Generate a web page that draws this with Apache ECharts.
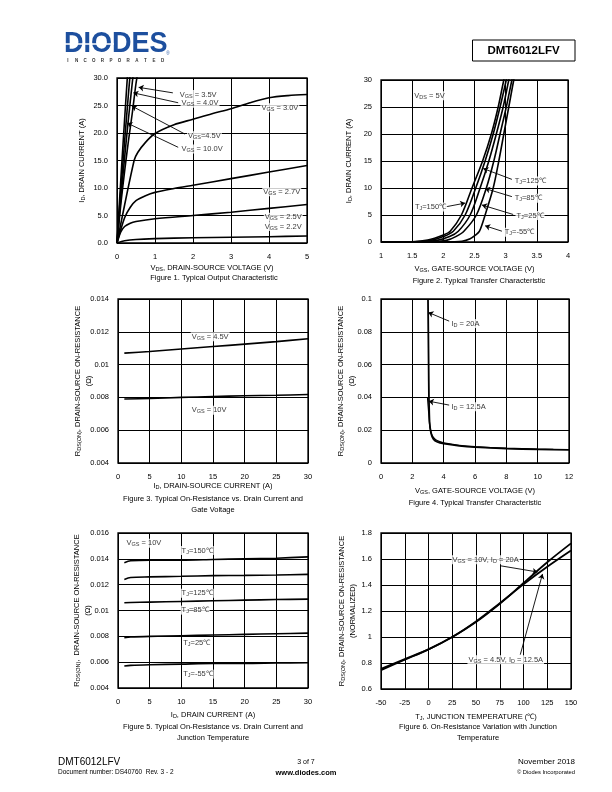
<!DOCTYPE html>
<html><head><meta charset="utf-8">
<script src="https://cdn.jsdelivr.net/npm/echarts@6/dist/echarts.min.js"></script>
<style>html,body{margin:0;padding:0;background:#fff}#c{width:612px;height:792px}</style>
</head><body><div id="c"></div>
<script>
// ---------------- DATA ----------------
// Figure 1: I_D vs V_DS for several V_GS
const f1XTicks = [0, 1, 2, 3, 4, 5];
const f1YTicks = [0, 5, 10, 15, 20, 25, 30];
const f1Vgs10 = [[0,0],[0.1,11.5],[0.2,22.5],[0.3,33]];
const f1Vgs45 = [[0,0],[0.1,9.5],[0.2,18.5],[0.3,27],[0.35,31]];
const f1Vgs40 = [[0,0],[0.1,8],[0.2,15.5],[0.3,22.5],[0.4,29],[0.45,32]];
const f1Vgs35 = [[0,0],[0.1,7],[0.2,13],[0.3,18.5],[0.4,23.5],[0.5,29],[0.55,31]];
const f1Vgs30 = [[0,0],[0.45,15],[0.55,16.5],[0.75,18.3],[1,19.9],[1.5,21.5],[2,22.5],[2.5,23.5],[3,24.4],[3.5,25.5],[4,26.4],[4.5,26.8],[5,27.0]];
const f1Vgs27 = [[0,0],[0.2,4.6],[0.35,6.5],[0.5,7.7],[0.75,8.6],[1,9.2],[1.5,9.9],[2,10.5],[3,11.7],[4,12.9],[5,14.1]];
const f1Vgs25 = [[0,0],[0.1,2],[0.2,3.0],[0.35,3.6],[0.5,3.9],[1,4.4],[2,5.0],[3,5.6],[4,6.3],[5,7.0]];
const f1Vgs22 = [[0,0],[0.2,0.4],[0.5,0.65],[1,0.8],[2,0.95],[3,1.05],[4,1.15],[5,1.27]];
const f1Notes = [
  [1.61, 27.0, 'V{s|GS} = 3.5V'],
  [1.66, 25.4, 'V{s|GS} = 4.0V'],
  [1.83, 19.5, 'V{s|GS}=4.5V'],
  [1.66, 17.1, 'V{s|GS} = 10.0V'],
  [3.76, 24.6, 'V{s|GS} = 3.0V'],
  [3.81, 9.3, 'V{s|GS} = 2.7V'],
  [3.85, 4.7, 'V{s|GS} = 2.5V'],
  [3.85, 3.0, 'V{s|GS} = 2.2V']
];
const f1Arrows = [
  [1.47, 27.3, 0.57, 28.3],
  [1.61, 25.5, 0.43, 27.3],
  [1.79, 19.8, 0.39, 24.9],
  [1.61, 17.4, 0.27, 21.8]
];

// Figure 2: I_D vs V_GS for several T_J
const f2XTicks = [1, 1.5, 2, 2.5, 3, 3.5, 4];
const f2YTicks = [0, 5, 10, 15, 20, 25, 30];
const f2Tj150 = [[1,0],[1.5,0.05],[1.75,0.35],[2.0,1.3],[2.11,2],[2.29,5],[2.46,10],[2.63,15],[2.77,20],[2.88,25],[2.97,30],[3.01,32]];
const f2Tj125 = [[1,0],[1.55,0.03],[1.8,0.3],[2.0,1.0],[2.16,2],[2.35,5],[2.52,10],[2.67,15],[2.8,20],[2.91,25],[3.01,30],[3.05,32]];
const f2Tj85  = [[1,0],[1.65,0.03],[1.9,0.3],[2.1,1.0],[2.24,2],[2.43,5],[2.59,10],[2.73,15],[2.85,20],[2.96,25],[3.05,30],[3.09,32]];
const f2Tj25  = [[1,0],[1.8,0.03],[2.05,0.3],[2.2,1.0],[2.33,2],[2.53,5],[2.69,10],[2.81,15],[2.91,20],[3.01,25],[3.10,30],[3.14,32]];
const f2TjM55 = [[1,0],[2.0,0.02],[2.3,0.15],[2.43,0.6],[2.52,1.3],[2.58,2],[2.67,5],[2.8,10],[2.89,15],[2.97,20],[3.05,25],[3.13,30],[3.17,32]];
const f2Notes = [
  [1.51, 27.1, 'V{s|DS} = 5V'],
  [3.12, 11.3, 'T{s|J}=125℃'],
  [3.12, 8.1, 'T{s|J}=85℃'],
  [3.15, 4.9, 'T{s|J}=25℃'],
  [2.96, 1.8, 'T{s|J}=-55℃'],
  [1.52, 6.5, 'T{s|J}=150℃']
];
const f2Arrows = [
  [3.10, 11.6, 2.64, 13.6],
  [3.10, 8.4, 2.67, 9.9],
  [3.12, 5.1, 2.62, 6.85],
  [2.94, 2.0, 2.67, 3.0],
  [2.03, 6.5, 2.35, 7.2]
];

// Figure 3: R_DS(ON) vs I_D
const f3XTicks = [0, 5, 10, 15, 20, 25, 30];
const f3YTicks = [0.004, 0.006, 0.008, 0.01, 0.012, 0.014];
const f3Id = [1, 5, 10, 15, 20, 25, 30];
const f3Vgs45 = [0.0107, 0.0108, 0.01095, 0.0111, 0.01125, 0.0114, 0.01158];
const f3Vgs10 = [0.0079, 0.00793, 0.008, 0.00805, 0.0081, 0.00813, 0.00818];
const f3Notes = [
  [11.4, 0.0117, 'V{s|GS} = 4.5V'],
  [11.4, 0.00721, 'V{s|GS} = 10V']
];

// Figure 4: R_DS(ON) vs V_GS
const f4XTicks = [0, 2, 4, 6, 8, 10, 12];
const f4YTicks = [0, 0.02, 0.04, 0.06, 0.08, 0.1];
const f4Id20 = [[3.0,0.1],[3.02,0.08],[3.04,0.06],[3.06,0.04],[3.1,0.025],[3.2,0.018],[3.35,0.0145],[3.6,0.0128],[4,0.0118],[5,0.0105],[6,0.0097],[8,0.0088],[10,0.0083],[12,0.008]];
const f4Id125 = [[2.97,0.04],[3.05,0.03],[3.12,0.022],[3.25,0.017],[3.45,0.0145],[3.7,0.0132],[4,0.0123],[5,0.0108],[6,0.0099],[8,0.009],[10,0.0085],[11,0.0083]];
const f4Notes = [
  [4.4, 0.085, 'I{s|D} = 20A'],
  [4.4, 0.0343, 'I{s|D} = 12.5A']
];
const f4Arrows = [
  [4.35, 0.0865, 3.02, 0.0918],
  [4.35, 0.0353, 3.05, 0.0377]
];

// Figure 5: R_DS(ON) vs I_D for several T_J
const f5XTicks = [0, 5, 10, 15, 20, 25, 30];
const f5YTicks = [0.004, 0.006, 0.008, 0.01, 0.012, 0.014, 0.016];
const f5Id = [1, 2, 5, 10, 15, 20, 25, 30];
const f5Tj150 = [0.0137, 0.01385, 0.0139, 0.0139, 0.01395, 0.014, 0.01405, 0.01415];
const f5Tj125 = [0.0124, 0.01255, 0.0126, 0.01265, 0.0127, 0.01272, 0.01275, 0.0128];
const f5Tj85  = [0.0106, 0.01062, 0.01065, 0.0107, 0.01075, 0.0108, 0.01085, 0.01088];
const f5Tj25  = [0.0079, 0.00795, 0.008, 0.00805, 0.0081, 0.00815, 0.0082, 0.00825];
const f5TjM55 = [0.0057, 0.00575, 0.0058, 0.00585, 0.0059, 0.0059, 0.00593, 0.00595];
const f5Notes = [
  [1.1, 0.0152, 'V{s|GS} = 10V'],
  [9.8, 0.01464, 'T{s|J}=150℃'],
  [9.8, 0.01133, 'T{s|J}=125℃'],
  [9.8, 0.01003, 'T{s|J}=85℃'],
  [10.06, 0.00752, 'T{s|J}=25℃'],
  [10.06, 0.00507, 'T{s|J}=-55℃']
];

// Figure 6: normalized R_DS(ON) vs T_J
const f6XTicks = [-50, -25, 0, 25, 50, 75, 100, 125, 150];
const f6YTicks = [0.6, 0.8, 1, 1.2, 1.4, 1.6, 1.8];
const f6Tj = [-50, -25, 0, 25, 50, 75, 100, 125, 150];
const f6Vgs10 = [0.745, 0.825, 0.905, 1.0, 1.115, 1.255, 1.415, 1.575, 1.72];
const f6Vgs45 = [0.755, 0.83, 0.905, 1.0, 1.12, 1.26, 1.405, 1.54, 1.665];
const f6Notes = [
  [23.7, 1.595, 'V{s|GS} = 10V, I{s|D} = 20A'],
  [40.5, 0.825, 'V{s|GS} = 4.5V, I{s|D} = 12.5A']
];
const f6Arrows = [
  [75.6, 1.548, 114.8, 1.5],
  [96.6, 0.864, 120, 1.485]
];

// ---------------- CHART ----------------
const FONT = '"Liberation Sans", Arial, Helvetica, sans-serif';
const RICH = { s: { fontSize: 5.5, fontFamily: FONT, color: '#000', padding: [3, 0, 0, 0] } };
const grids = [
  { left: 117, top: 78, width: 190, height: 165 },
  { left: 381, top: 80, width: 187, height: 162 },
  { left: 118, top: 299, width: 190, height: 164 },
  { left: 381, top: 299, width: 188, height: 164 },
  { left: 118, top: 533, width: 190, height: 155 },
  { left: 381, top: 533, width: 190, height: 156 }
].map(g => Object.assign({ show: true, borderColor: '#000', borderWidth: 1.3, backgroundColor: 'transparent' }, g));

const numFmt = v => String(parseFloat(v.toFixed(6)));
function axis(idx, ticks, fmt, name, gap, isY) {
  const a = {
    type: 'value', gridIndex: idx,
    min: ticks[0], max: ticks[ticks.length - 1], interval: +(ticks[1] - ticks[0]).toFixed(6),
    axisLine: { show: false }, axisTick: { show: false },
    splitLine: { show: true, lineStyle: { color: '#000', width: 1 } },
    axisLabel: { color: '#000', fontSize: 7.5, fontFamily: FONT, margin: isY ? 9 : 10, formatter: fmt },
    name: name, nameLocation: 'middle', nameGap: gap, nameMoveOverlap: false,
    nameTextStyle: { color: '#000', fontSize: 7.5, fontFamily: FONT, rich: RICH, lineHeight: 11 }
  };
  if (isY) a.nameRotate = 90;
  return a;
}
const xAxes = [
  axis(0, f1XTicks, numFmt, 'V{s|DS}, DRAIN-SOURCE VOLTAGE (V)', 19, false),
  axis(1, f2XTicks, numFmt, 'V{s|GS}, GATE-SOURCE VOLTAGE (V)', 21, false),
  axis(2, f3XTicks, numFmt, 'I{s|D}, DRAIN-SOURCE CURRENT (A)', 17, false),
  axis(3, f4XTicks, numFmt, 'V{s|GS}, GATE-SOURCE VOLTAGE (V)', 22, false),
  axis(4, f5XTicks, numFmt, 'I{s|D}, DRAIN CURRENT (A)', 21, false),
  axis(5, f6XTicks, numFmt, 'T{s|J}, JUNCTION TEMPERATURE (℃)', 22, false)
];
const yAxes = [
  axis(0, f1YTicks, v => v.toFixed(1), 'I{s|D}, DRAIN CURRENT (A)', 30, true),
  axis(1, f2YTicks, numFmt, 'I{s|D}, DRAIN CURRENT (A)', 27, true),
  axis(2, f3YTicks, numFmt, 'R{s|DS(ON)}, DRAIN-SOURCE ON-RESISTANCE\n(Ω)', 23.5, true),
  axis(3, f4YTicks, numFmt, 'R{s|DS(ON)}, DRAIN-SOURCE ON-RESISTANCE\n(Ω)', 23.5, true),
  axis(4, f5YTicks, numFmt, 'R{s|DS(ON)},  DRAIN-SOURCE ON-RESISTANCE\n(Ω)', 24.5, true),
  axis(5, f6YTicks, numFmt, 'R{s|DS(ON)}, DRAIN-SOURCE ON-RESISTANCE\n(NORMALIZED)', 22.5, true)
];

function curve(idx, data, w, sm) {
  return { type: 'line', xAxisIndex: idx, yAxisIndex: idx, data: data, symbol: 'none', showSymbol: false,
    smooth: sm === undefined ? 0.3 : sm, clip: true, silent: true, z: 3,
    lineStyle: { color: '#000', width: w || 1.6 } };
}
const zip = (xs, ys) => xs.map((x, i) => [x, ys[i]]);
function notes(idx, list, arrows) {
  const s = {
    type: 'scatter', xAxisIndex: idx, yAxisIndex: idx, symbolSize: 1, silent: true, z: 6,
    itemStyle: { color: 'rgba(0,0,0,0)' },
    label: { show: true, position: 'right', distance: 0, color: '#000', fontSize: 7.5, fontFamily: FONT,
      rich: RICH, backgroundColor: '#fff', padding: [0, 1, 0, 1] },
    data: list.map(n => ({ value: [n[0], n[1]], label: { formatter: n[2] } }))
  };
  if (arrows) {
    s.markLine = {
      silent: true, symbol: ['none', 'arrow'], symbolSize: 5, animation: false,
      label: { show: false }, lineStyle: { color: '#000', width: 0.9, type: 'solid' },
      emphasis: { disabled: true },
      data: arrows.map(a => [{ coord: [a[0], a[1]] }, { coord: [a[2], a[3]] }])
    };
  }
  return s;
}

const series = [
  curve(0, f1Vgs10), curve(0, f1Vgs45), curve(0, f1Vgs40), curve(0, f1Vgs35),
  curve(0, f1Vgs30), curve(0, f1Vgs27), curve(0, f1Vgs25), curve(0, f1Vgs22),
  notes(0, f1Notes, f1Arrows),
  curve(1, f2Tj150), curve(1, f2Tj125), curve(1, f2Tj85), curve(1, f2Tj25), curve(1, f2TjM55),
  notes(1, f2Notes, f2Arrows),
  curve(2, zip(f3Id, f3Vgs45)), curve(2, zip(f3Id, f3Vgs10)),
  notes(2, f3Notes),
  curve(3, f4Id20, 1.8, 0.2), curve(3, f4Id125, 1.3, 0.2),
  notes(3, f4Notes, f4Arrows),
  curve(4, zip(f5Id, f5Tj150)), curve(4, zip(f5Id, f5Tj125)), curve(4, zip(f5Id, f5Tj85)),
  curve(4, zip(f5Id, f5Tj25)), curve(4, zip(f5Id, f5TjM55)),
  notes(4, f5Notes),
  curve(5, zip(f6Tj, f6Vgs10), 1.8), curve(5, zip(f6Tj, f6Vgs45), 1.8),
  notes(5, f6Notes, f6Arrows)
];

function txt(text, x, y, size, opts) {
  opts = opts || {};
  return { type: 'text', silent: true, z: 10, style: {
    text: text, x: x, y: y, fill: opts.fill || '#000',
    font: (opts.weight || 'normal') + ' ' + size + 'px ' + FONT,
    align: opts.align || 'center', verticalAlign: 'middle',
    textAlign: opts.align || 'center', textVerticalAlign: 'middle' } };
}
const captions = [
  ['Figure 1. Typical Output Characteristic', 214, 278],
  ['Figure 2. Typical Transfer Characteristic', 479, 281],
  ['Figure 3. Typical On-Resistance vs. Drain Current and', 213, 499],
  ['Gate Voltage', 213, 510],
  ['Figure 4. Typical Transfer Characteristic', 475, 503],
  ['Figure 5. Typical On-Resistance vs. Drain Current and', 213, 727],
  ['Junction Temperature', 213, 738],
  ['Figure 6. On-Resistance Variation with Junction', 478, 727],
  ['Temperature', 478, 738]
];
const graphics = captions.map(c => txt(c[0], c[1], c[2], 7.5));
// header logo
graphics.push({ type: 'text', silent: true, z: 10, scaleX: 0.9, x: 64, y: 44, style: {
  text: 'DIODES', x: 0, y: 0, fill: '#1d4f9e', font: 'bold 30px ' + FONT,
  align: 'left', verticalAlign: 'middle', textAlign: 'left', textVerticalAlign: 'middle' } });
graphics.push({ type: 'rect', silent: true, z: 11, shape: { x: 64, y: 43.3, width: 50, height: 1.4 }, style: { fill: '#fff' } });
'INCORPORATED'.split('').forEach((ch, i) => graphics.push(txt(ch, 68 + i * 8.6, 61, 4.5, { weight: 'bold', fill: '#333' })));
graphics.push(txt('®', 168, 54, 4.5, { fill: '#1d4f9e' }));
graphics.push({ type: 'rect', silent: true, z: 10, shape: { x: 472.5, y: 40, width: 102.5, height: 21 }, style: { fill: 'none', stroke: '#000', lineWidth: 1 } });
graphics.push(txt('DMT6012LFV', 523.5, 50.5, 11.5, { weight: 'bold' }));
// footer
graphics.push(txt('DMT6012LFV', 58, 762, 10, { align: 'left' }));
graphics.push(txt('Document number: DS40760  Rev. 3 - 2', 58, 772, 6.5, { align: 'left' }));
graphics.push(txt('3 of 7', 306, 762, 7));
graphics.push(txt('www.diodes.com', 306, 772.5, 7.5, { weight: 'bold' }));
graphics.push(txt('November 2018', 575, 762, 8, { align: 'right' }));
graphics.push(txt('© Diodes Incorporated', 575, 772, 5.8, { align: 'right' }));

const chart = echarts.init(document.getElementById('c'), null, { renderer: 'canvas', width: 612, height: 792 });
chart.setOption({
  animation: false,
  backgroundColor: '#fff',
  textStyle: { fontFamily: FONT },
  grid: grids, xAxis: xAxes, yAxis: yAxes, series: series, graphic: graphics
});
</script></body></html>
